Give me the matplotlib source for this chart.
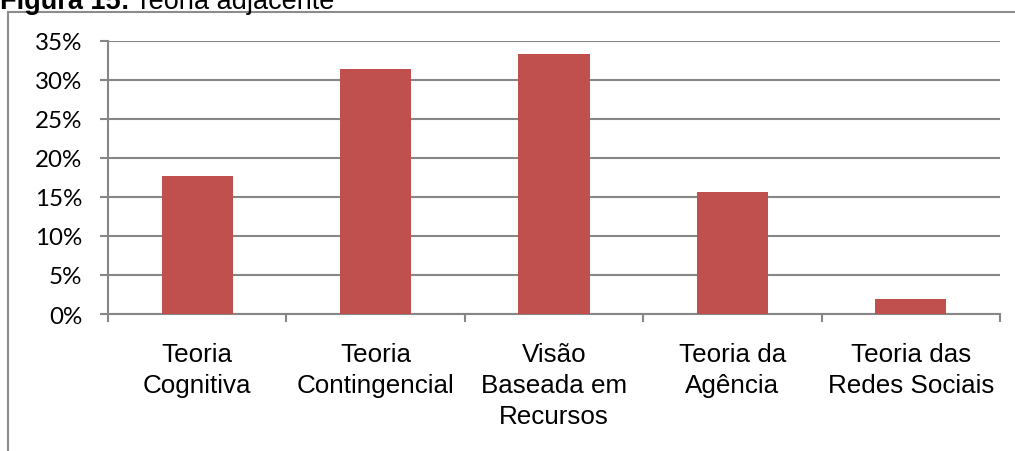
import matplotlib
matplotlib.use("Agg")
import matplotlib.pyplot as plt
from matplotlib.lines import Line2D
from matplotlib.ticker import FuncFormatter, MultipleLocator

categories = ["Teoria\nCognitiva", "Teoria\nContingencial", "Visão\nBaseada em\nRecursos",
              "Teoria da\nAgência", "Teoria das\nRedes Sociais"]
counts = [9, 16, 17, 8, 1]
total = 51
shares = [c / total for c in counts]

bar_color = "#C0504D"
grid_color = "#868686"

fig = plt.figure(figsize=(10.15, 4.52), dpi=100)
ax = fig.add_axes([108 / 1015, 1 - 315 / 452, (1000 - 108) / 1015, (315 - 42) / 452])

x = list(range(len(categories)))
ax.bar(x, shares, width=0.4, color=bar_color, zorder=3)

ax.set_xlim(-0.5, len(categories) - 0.5)
ax.set_ylim(0, 0.35)
ax.yaxis.set_major_locator(MultipleLocator(0.05))
ax.yaxis.set_major_formatter(FuncFormatter(lambda v, _: f"{round(v * 100)}%"))
ax.grid(axis="y", color=grid_color, linewidth=1.5, zorder=0)

for side in ("top", "right"):
    ax.spines[side].set_visible(False)
for side in ("left", "bottom"):
    ax.spines[side].set_color(grid_color)
    ax.spines[side].set_linewidth(1.5)

ax.set_xticks([i - 0.5 for i in range(len(categories) + 1)])
ax.set_xticklabels([])
ax.set_xticks(x, minor=True)
ax.set_xticklabels(categories, minor=True, fontsize=18.7, family="Liberation Sans",
                   linespacing=1.36, va="top")
ax.tick_params(axis="x", which="major", length=5.5, width=1.5, color=grid_color)
ax.tick_params(axis="x", which="minor", length=0, pad=20.5)
ax.tick_params(axis="y", length=6, width=1.5, color=grid_color, labelsize=17.4, pad=12.5)
for lbl in ax.get_yticklabels():
    lbl.set_family("Lato")

# figure frame
fig.add_artist(Line2D([8 / 1015, 8 / 1015], [0, 1 - 13 / 452], color="#8c8c8c", lw=1.5,
                      transform=fig.transFigure))
fig.add_artist(Line2D([8 / 1015, 1], [1 - 13 / 452, 1 - 13 / 452], color="#8c8c8c", lw=1.5,
                      transform=fig.transFigure))

# caption
t = fig.text(0, 1 - 9 / 452, "Figura 15:", fontsize=19.5, fontweight="bold",
             family="Liberation Sans", va="baseline", ha="left")
fig.canvas.draw()
bb = t.get_window_extent()
fig.text(bb.x1 / 1015 + 0.005, 1 - 9 / 452, "Teoria adjacente", fontsize=19.5,
         family="Liberation Sans", va="baseline", ha="left")

fig.savefig("out.png", dpi=100)
